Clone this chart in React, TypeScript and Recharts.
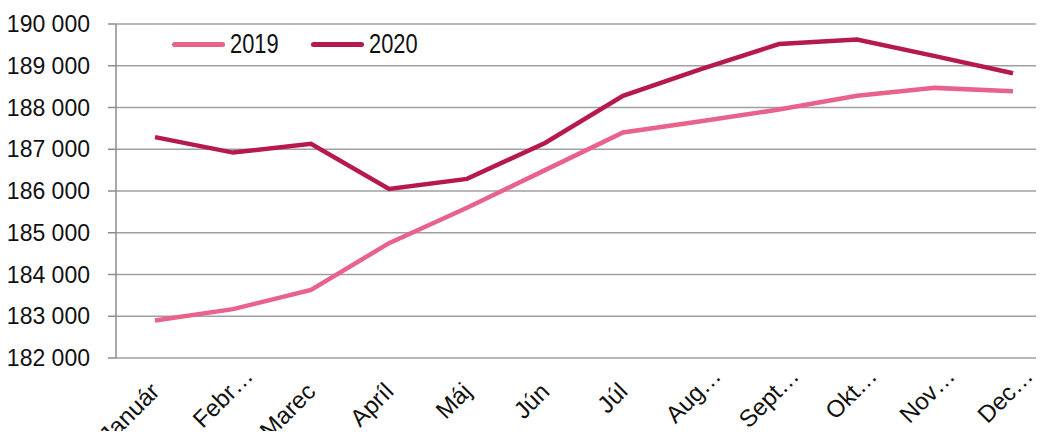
import { LineChart, Line, XAxis, YAxis, CartesianGrid, Legend } from "recharts";

const months = ["Január", "Febr…", "Marec", "Apríl", "Máj", "Jún", "Júl", "Aug…", "Sept…", "Okt…", "Nov…", "Dec…"];
const y2019 = [182900, 183170, 183630, 184750, 185600, 186500, 187400, 187670, 187950, 188280, 188470, 188390];
const y2020 = [187290, 186920, 187130, 186050, 186290, 187150, 188280, 188920, 189520, 189630, 189230, 188820];
const yTicks = [182000, 183000, 184000, 185000, 186000, 187000, 188000, 189000, 190000];
const boundaryTicks = months.map((_, i) => i).concat(months.length);
const centerTicks = months.map((_, i) => i + 0.5);

const series = [
  { key: "y2019", name: "2019", color: "#E8628C" },
  { key: "y2020", name: "2020", color: "#B5194D" },
];

const data = months.map((m, i) => ({ x: i + 0.5, month: m, y2019: y2019[i], y2020: y2020[i] }));

const font = "'Liberation Sans', Arial, sans-serif";
const gridColor = "#a0a0a0";

const fmt = (v: number) => String(v).replace(/\B(?=(\d{3})+(?!\d))/g, " ");

function MonthTick({ x, y, payload }: any) {
  const label = months[Math.floor(payload.value)];
  // truncated labels run a bit past the tick, like in Excel
  const shift = label.endsWith("…") ? 22 : 0;
  return (
    <g transform={`translate(${x + 6},${y + 27})`}>
      <text x={shift} y={0} textAnchor="end" transform="rotate(-45)" fontSize={24} fill="#111" fontFamily={font}>
        {label}
      </text>
    </g>
  );
}

// legend font in the original is a narrow face; squeeze the regular one
function LegendBox() {
  return (
    <div style={{ display: "flex", alignItems: "center", fontFamily: font, fontSize: 28, color: "#111", lineHeight: 1 }}>
      {series.map((s) => (
        <div key={s.key} style={{ display: "flex", alignItems: "center", marginRight: 32 }}>
          <span style={{ display: "inline-block", width: 53, height: 5, borderRadius: 3, background: s.color, marginRight: 5 }} />
          <span style={{ display: "inline-block", width: 49, whiteSpace: "nowrap" }}>
            <span style={{ display: "inline-block", transform: "scaleX(0.78)", transformOrigin: "left center" }}>{s.name}</span>
          </span>
        </div>
      ))}
    </div>
  );
}

export default function App() {
  return (
    <div style={{ margin: -8, width: 1044, height: 439, overflow: "hidden", background: "#fff" }}>
      <LineChart width={1052} height={470} data={data} margin={{ top: 24, right: 0, bottom: 0, left: 0 }}>
        <CartesianGrid horizontal vertical={false} stroke={gridColor} strokeWidth={1.5} />
        <XAxis
          xAxisId="marks"
          dataKey="x"
          type="number"
          domain={[0, months.length]}
          ticks={boundaryTicks}
          tick={false}
          tickSize={8}
          height={0}
          stroke="#8c8c8c"
          strokeWidth={1.5}
        />
        <XAxis
          xAxisId="labels"
          dataKey="x"
          type="number"
          domain={[0, months.length]}
          ticks={centerTicks}
          tick={<MonthTick />}
          tickLine={false}
          axisLine={false}
          height={112}
          interval={0}
        />
        <YAxis
          width={116}
          domain={[182000, 190000]}
          ticks={yTicks}
          tickFormatter={fmt}
          tickSize={8}
          tickMargin={18}
          stroke="#8c8c8c"
          strokeWidth={1.5}
          tick={{ fontSize: 23, fill: "#111", fontFamily: font }}
        />
        <Legend
          layout="horizontal"
          verticalAlign="middle"
          align="center"
          content={<LegendBox />}
          wrapperStyle={{ position: "absolute", top: 30, left: 172, width: "auto" }}
        />
        {series.map((s) => (
          <Line
            key={s.key}
            xAxisId="marks"
            type="linear"
            dataKey={s.key}
            name={s.name}
            stroke={s.color}
            strokeWidth={4.5}
            dot={false}
            isAnimationActive={false}
          />
        ))}
      </LineChart>
    </div>
  );
}
